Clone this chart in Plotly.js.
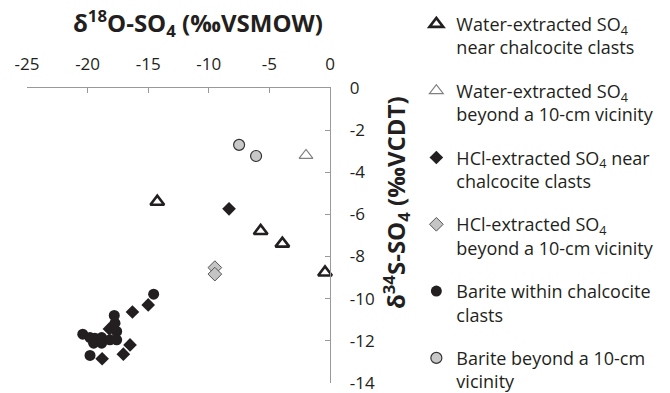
<!DOCTYPE html>
<html>
<head>
<meta charset="utf-8">
<script src="https://cdn.plot.ly/plotly-3.0.1.min.js"></script>
<style>html,body{margin:0;padding:0;background:#fff;}#chart{width:670px;height:393px;}</style>
</head>
<body>
<div id="chart"></div>
<script>
// δ18O (x) and δ34S (y) values per sample group
const waterNearX = [-14.25, -5.72, -3.93, -0.41];
const waterNearY = [-5.4, -6.79, -7.39, -8.76];
const waterBeyondX = [-1.98];
const waterBeyondY = [-3.2];
const hclNearX = [-8.33, -15.0, -16.3, -18.2, -16.5, -17.05, -18.8];
const hclNearY = [-5.74, -10.3, -10.64, -11.44, -12.2, -12.64, -12.86];
const hclBeyondX = [-9.5, -9.5];
const hclBeyondY = [-8.53, -8.84];
const bariteNearX = [-14.55, -17.8, -17.74, -17.6, -20.4, -19.8, -19.4, -18.84, -19.5, -18.84, -18.15, -17.6, -19.8];
const bariteNearY = [-9.79, -10.8, -11.17, -11.56, -11.69, -11.85, -11.88, -11.85, -12.12, -12.12, -11.96, -11.96, -12.7];
const bariteBeyondX = [-7.5, -6.1];
const bariteBeyondY = [-2.7, -3.23];

const xTicks = [-25, -20, -15, -10, -5, 0];
const yTicks = [0, -2, -4, -6, -8, -10, -12, -14];

const names = [
  'Water-extracted SO<sub>4</sub><br>near chalcocite clasts',
  'Water-extracted SO<sub>4</sub><br>beyond a 10-cm vicinity',
  'HCl-extracted SO<sub>4</sub> near<br>chalcocite clasts',
  'HCl-extracted SO<sub>4</sub><br>beyond a 10-cm vicinity',
  'Barite within chalcocite<br>clasts',
  'Barite beyond a 10-cm<br>vicinity'
];

const ink = '#231f20';
const traces = [
  {x: waterNearX, y: waterNearY, marker: {symbol: 'triangle-up-open', size: 12, color: ink, line: {width: 2.6, color: ink}}},
  {x: waterBeyondX, y: waterBeyondY, marker: {symbol: 'triangle-up-open', size: 12, color: '#808080', line: {width: 1.2, color: '#808080'}}},
  {x: hclNearX, y: hclNearY, marker: {symbol: 'diamond', size: 10.5, color: ink, line: {width: 0}}},
  {x: hclBeyondX, y: hclBeyondY, marker: {symbol: 'diamond', size: 10.5, color: '#c4c4c4', line: {width: 1, color: '#555'}}},
  {x: bariteNearX, y: bariteNearY, marker: {symbol: 'circle', size: 11, color: ink, line: {width: 0}}},
  {x: bariteBeyondX, y: bariteBeyondY, marker: {symbol: 'circle', size: 11, color: '#c8c8c8', line: {width: 1.2, color: '#333'}}}
].map((t, i) => Object.assign(t, {type: 'scatter', mode: 'markers', name: names[i], legendgroup: 'g' + i, cliponaxis: false}));

const font = 'Open Sans, Noto Sans, sans-serif';
const layout = {
  width: 670, height: 393,
  margin: {l: 27, r: 340, t: 88, b: 10, autoexpand: false},
  paper_bgcolor: '#fff', plot_bgcolor: '#fff',
  font: {family: font, size: 17, color: ink},
  showlegend: true,
  legend: {x: 1.285, xanchor: 'left', y: 1.279, yanchor: 'top', valign: 'top', tracegroupgap: 17,
           maxheight: 420, borderwidth: 0,
           font: {family: font, size: 18, color: ink}, itemwidth: 30, bgcolor: 'rgba(0,0,0,0)'},
  xaxis: {side: 'top', range: [-25, 0], tickvals: xTicks, ticktext: xTicks.map(String),
          ticks: 'inside', ticklen: 5, tickcolor: '#999', showline: true, linecolor: '#999', linewidth: 1.3,
          showgrid: false, zeroline: false, ticklabelstandoff: 10, ticklabeloverflow: 'allow',
          tickfont: {size: 17, color: ink}},
  yaxis: {side: 'right', range: [-14.01, 0], tickvals: yTicks, ticktext: yTicks.map(String),
          ticks: 'inside', ticklen: 5, tickcolor: '#999', showline: true, linecolor: '#999', linewidth: 1.3,
          showgrid: false, zeroline: false, ticklabelstandoff: 15, ticklabeloverflow: 'allow',
          tickfont: {size: 17, color: ink}},
  annotations: [
    {text: '<b>δ<sup>18</sup>O-SO<sub>4</sub> (‰VSMOW)</b>', xref: 'paper', yref: 'paper', x: 0.566, y: 1.22,
     xanchor: 'center', yanchor: 'middle', showarrow: false, font: {size: 24, color: ink, family: font}},
    {text: '<b>δ<sup>34</sup>S-SO<sub>4</sub> (‰VCDT)</b>', xref: 'paper', yref: 'paper', x: 1.218, y: 0.61,
     xanchor: 'center', yanchor: 'middle', textangle: -90, showarrow: false, font: {size: 24, color: ink, family: font}}
  ]
};

Plotly.newPlot('chart', traces, layout, {displayModeBar: false, staticPlot: true});
</script>
</body>
</html>
